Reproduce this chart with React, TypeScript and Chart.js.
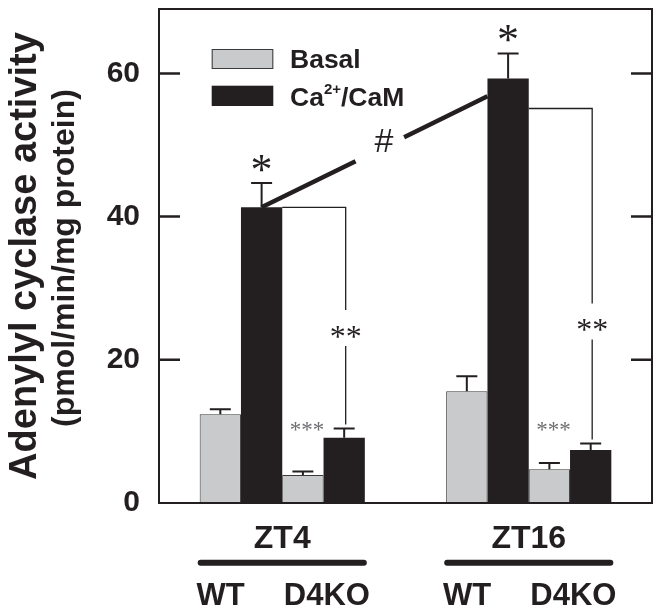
import React, { useEffect, useRef } from 'react';
import { Chart, registerables } from 'chart.js';

Chart.register(...registerables);

const groups = ['ZT4', 'ZT16'];
const genotypes = ['WT', 'D4KO'];
const basalWT = [12.4, 15.6];
const basalWTErr = [0.7, 2.1];
const camWT = [41.3, 59.3];
const camWTErr = [3.4, 3.5];
const basalKO = [3.9, 4.7];
const basalKOErr = [0.5, 0.9];
const camKO = [9.1, 7.4];
const camKOErr = [1.3, 0.9];
const yTicks = [0, 20, 40, 60];
const yMax = 69;

// annotation levels, in y units
const bracketLevels = [41.3, 55.1];
const doubleStarLevels = [23.9, 24.8];
const tripleStarLevel = 10.7;
const hashLineEnd = 56.8;

const GRAY = '#c9cacb';
const INK = '#231f20';
const SANS = '"Liberation Sans", Arial, sans-serif';
const SERIF = '"Liberation Serif", "Times New Roman", serif';

const errors = [basalWTErr, camWTErr, basalKOErr, camKOErr];

const decorations = {
  id: 'decorations',
  afterDraw(chart: any) {
    const ctx = chart.ctx as CanvasRenderingContext2D;
    const { left, right, top, bottom } = chart.chartArea;
    const y = chart.scales.y;
    const metas = [0, 1, 2, 3].map((i) => chart.getDatasetMeta(i));
    const vals = chart.data.datasets.map((d: any) => d.data as number[]);

    ctx.save();
    ctx.strokeStyle = INK;
    ctx.fillStyle = INK;

    // frame
    ctx.lineWidth = 2;
    ctx.strokeRect(left, top, right - left, bottom - top);

    // inward ticks on both sides
    ctx.lineWidth = 2.5;
    yTicks.forEach((v) => {
      if (v === 0) return;
      const py = y.getPixelForValue(v);
      ctx.beginPath();
      ctx.moveTo(left, py);
      ctx.lineTo(left + 21, py);
      ctx.moveTo(right - 21, py);
      ctx.lineTo(right, py);
      ctx.stroke();
    });

    // error bars (upper only)
    ctx.lineWidth = 2;
    metas.forEach((meta, i) => {
      meta.data.forEach((bar: any, j: number) => {
        const top2 = y.getPixelForValue(vals[i][j] + errors[i][j]);
        ctx.beginPath();
        ctx.moveTo(bar.x, bar.y);
        ctx.lineTo(bar.x, top2);
        ctx.moveTo(bar.x - 10.5, top2);
        ctx.lineTo(bar.x + 10.5, top2);
        ctx.stroke();
      });
    });

    // single stars above WT Ca2+/CaM bars
    ctx.textAlign = 'center';
    ctx.textBaseline = 'alphabetic';
    ctx.font = `44px ${SERIF}`;
    metas[1].data.forEach((bar: any, j: number) => {
      const errTop = y.getPixelForValue(camWT[j] + camWTErr[j]);
      ctx.fillText('*', bar.x, errTop - 20 + 0.47 * 44);
    });

    // brackets with ** between WT and D4KO Ca2+/CaM
    metas[1].data.forEach((wt: any, j: number) => {
      const ko = metas[3].data[j] as any;
      const yb = y.getPixelForValue(bracketLevels[j]);
      const xv = ko.x + 1.5;
      const sy = y.getPixelForValue(doubleStarLevels[j]);
      const errTop = y.getPixelForValue(camKO[j] + camKOErr[j]);
      ctx.lineWidth = 1.3;
      ctx.beginPath();
      ctx.moveTo(wt.x + wt.width / 2, yb);
      ctx.lineTo(xv, yb);
      ctx.lineTo(xv, sy - 22);
      ctx.moveTo(xv, sy + 14);
      ctx.lineTo(xv, errTop - 4);
      ctx.stroke();
      ctx.font = `32px ${SERIF}`;
      ctx.fillText('**', xv, sy + 0.47 * 32);
    });

    // *** above D4KO basal
    ctx.fillStyle = '#6d6e71';
    ctx.font = `23px ${SERIF}`;
    metas[2].data.forEach((bar: any) => {
      ctx.fillText('***', bar.x + 4, y.getPixelForValue(tripleStarLevel) + 0.47 * 23);
    });
    ctx.fillStyle = INK;

    // # line between WT Ca2+/CaM at ZT4 and ZT16
    const a = metas[1].data[0] as any;
    const b = metas[1].data[1] as any;
    const x1 = a.x;
    const y1 = y.getPixelForValue(camWT[0]);
    const x2 = b.x - b.width / 2;
    const y2 = y.getPixelForValue(hashLineEnd);
    const at = (t: number) => [x1 + (x2 - x1) * t, y1 + (y2 - y1) * t];
    ctx.lineWidth = 4.5;
    ctx.beginPath();
    let p = at(0.416);
    ctx.moveTo(x1, y1);
    ctx.lineTo(p[0], p[1]);
    p = at(0.631);
    ctx.moveTo(p[0], p[1]);
    ctx.lineTo(x2, y2);
    ctx.stroke();
    p = at(0.542);
    ctx.font = `34px ${SANS}`;
    ctx.textBaseline = 'middle';
    ctx.fillText('#', p[0], p[1] - 5);

    // legend
    ctx.textBaseline = 'alphabetic';
    ctx.textAlign = 'left';
    const lx = left + 52.7;
    ctx.fillStyle = GRAY;
    ctx.fillRect(lx, 41, 61.6, 20);
    ctx.lineWidth = 1;
    ctx.strokeStyle = '#3a3a3a';
    ctx.strokeRect(lx + 0.5, 41.5, 60.6, 19);
    ctx.fillStyle = INK;
    ctx.fillRect(lx, 77.7, 61.6, 20.3);
    ctx.font = `bold 26.5px ${SANS}`;
    ctx.fillText('Basal', lx + 78.3, 60);
    let tx = lx + 78.3;
    ctx.fillText('Ca', tx, 98);
    tx += ctx.measureText('Ca').width;
    ctx.font = `bold 15px ${SANS}`;
    ctx.fillText('2+', tx, 86);
    tx += ctx.measureText('2+').width;
    ctx.font = `bold 26.5px ${SANS}`;
    ctx.fillText('/CaM', tx, 98);

    // group labels
    ctx.textAlign = 'center';
    ctx.strokeStyle = INK;
    metas[0].data.forEach((first: any, j: number) => {
      const last = metas[3].data[j] as any;
      const gl = first.x - first.width / 2;
      const gr = last.x + last.width / 2;
      ctx.font = `bold 32px ${SANS}`;
      ctx.fillText(groups[j], (gl + gr) / 2, 540.3);
      ctx.lineWidth = 6;
      ctx.lineCap = 'round';
      ctx.beginPath();
      ctx.moveTo(gl + 1, 554.7);
      ctx.lineTo(gr - 1, 554.7);
      ctx.stroke();
      ctx.lineCap = 'butt';
      ctx.font = `bold 31px ${SANS}`;
      ctx.fillText(genotypes[0], gl + 21, 597);
      ctx.fillText(genotypes[1], gr - 38, 597);
    });

    // y-axis title
    ctx.save();
    ctx.translate(28, 248);
    ctx.rotate(-Math.PI / 2);
    ctx.font = `bold 38px ${SANS}`;
    ctx.fillText('Adenylyl cyclase activity', 0, 0);
    ctx.restore();
    ctx.save();
    ctx.translate(66, 250);
    ctx.rotate(-Math.PI / 2);
    ctx.font = `bold 32px ${SANS}`;
    ctx.fillText('(pmol/min/mg protein)', 0, 0);
    ctx.restore();

    ctx.restore();
  },
};

export default function App() {
  const chartRef = useRef<HTMLCanvasElement | null>(null);

  useEffect(() => {
    if (!chartRef.current) return;
    const gray = { backgroundColor: GRAY, borderColor: '#3a3a3a', borderWidth: 1 };
    const black = { backgroundColor: INK, borderColor: INK, borderWidth: 0 };
    const chart = new Chart(chartRef.current, {
      type: 'bar',
      data: {
        labels: groups,
        datasets: [
          { label: 'WT Basal', data: basalWT, ...gray },
          { label: 'WT Ca2+/CaM', data: camWT, ...black },
          { label: 'D4KO Basal', data: basalKO, ...gray },
          { label: 'D4KO Ca2+/CaM', data: camKO, ...black },
        ],
      },
      options: {
        animation: false,
        responsive: true,
        maintainAspectRatio: false,
        datasets: { bar: { categoryPercentage: 0.67, barPercentage: 1 } },
        layout: { padding: { top: 1, right: 2, bottom: 103, left: 0 } },
        plugins: { legend: { display: false }, tooltip: { enabled: false } },
        scales: {
          x: { type: 'category', display: false },
          y: {
            min: 0,
            max: yMax,
            afterBuildTicks: (s: any) => {
              s.ticks = yTicks.map((v) => ({ value: v }));
            },
            afterFit: (s: any) => {
              s.width = 151;
              s.paddingTop = 0;
              s.paddingBottom = 0;
            },
            grid: { display: false, drawTicks: false },
            border: { display: false },
            ticks: { padding: 19, color: INK, font: { family: SANS, size: 30, weight: 'bold' } },
          },
        },
      },
      plugins: [decorations],
    } as any);

    return () => {
      chart.destroy();
    };
  }, []);

  return (
    <div style={{ position: 'relative', width: 646, height: 598 }}>
      <canvas ref={chartRef} />
    </div>
  );
}
